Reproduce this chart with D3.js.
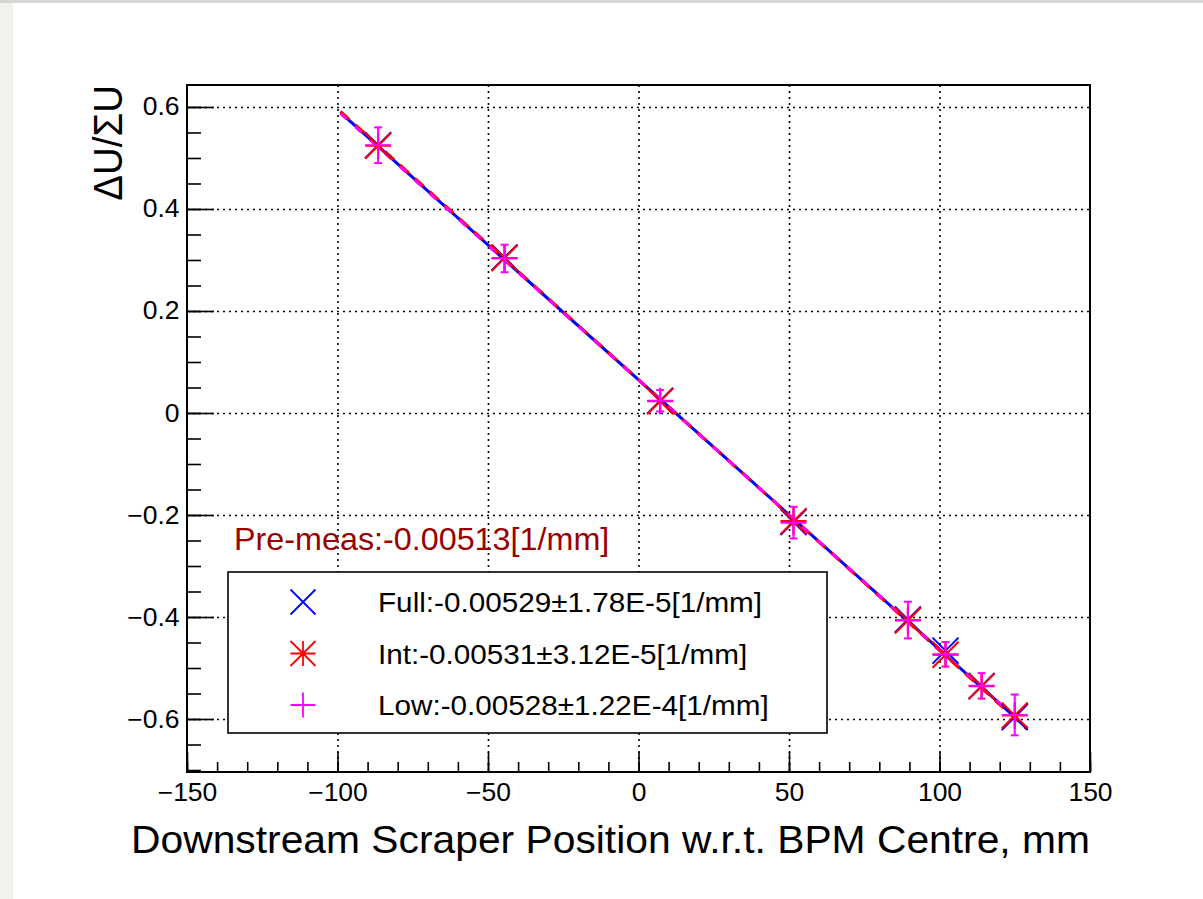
<!DOCTYPE html>
<html>
<head>
<meta charset="utf-8">
<script src="https://cdn.jsdelivr.net/npm/d3@7"></script>
<style>
	body { margin: 0; background: #fff; }
	#wrapper { width: 1203px; height: 899px; }
	text { font-family: "Liberation Sans", Arial, sans-serif; }
</style>
</head>
<body>
<div id="wrapper"></div>
<script>
/////////////////////////////////////////////////
// data /////////////////////////////////////////
/////////////////////////////////////////////////

const positions = [-86.5, -44.5, 7.2, 51.5, 89.5, 102, 114, 125];
const fullValues = [0.525, 0.305, 0.024, -0.214, -0.405, -0.466, -0.535, -0.596];
const intValues = [0.524, 0.304, 0.023, -0.212, -0.407, -0.474, -0.536, -0.593];
const lowValues = [0.525, 0.303, 0.024, -0.215, -0.406, -0.473, -0.535, -0.592];
const lowErrors = [0.035, 0.027, 0.021, 0.031, 0.036, 0.024, 0.025, 0.04];

const fitLabels = [
	"Full:-0.00529±1.78E-5[1/mm]",
	"Int:-0.00531±3.12E-5[1/mm]",
	"Low:-0.00528±1.22E-4[1/mm]"
];
const fitSlopes = [-0.00529, -0.00531, -0.00528];
const fitIntercepts = [0.065, 0.0655, 0.0645];
const fitRange = [-99, 129];

const xTicks = [-150, -100, -50, 0, 50, 100, 150];
const yTicks = [-0.6, -0.4, -0.2, 0, 0.2, 0.4, 0.6];
const preMeasLabel = "Pre-meas:-0.00513[1/mm]";

/////////////////////////////////////////////////
// dimensions ///////////////////////////////////
/////////////////////////////////////////////////

let dimensions = {
	width: 1203,
	height: 899,
	margin: { top: 85, right: 113, bottom: 127, left: 187 }
};
dimensions.boundedWidth = dimensions.width - dimensions.margin.left - dimensions.margin.right;
dimensions.boundedHeight = dimensions.height - dimensions.margin.top - dimensions.margin.bottom;

// picture is a bit wider than tall, text gets stretched the same way
const stretch = 1.06;

const svg = d3.select("#wrapper").append("svg")
	.attr("width", dimensions.width)
	.attr("height", dimensions.height);

// page background
svg.append("rect").attr("width", dimensions.width).attr("height", dimensions.height).attr("fill", "#fff");
svg.append("rect").attr("width", 13).attr("height", dimensions.height).attr("fill", "#f3f1ec");
svg.append("rect").attr("width", dimensions.width).attr("height", 3).attr("fill", "#d6d6d2");

const bounds = svg.append("g")
	.attr("transform", `translate(${dimensions.margin.left},${dimensions.margin.top})`);

/////////////////////////////////////////////////
// scales ///////////////////////////////////////
/////////////////////////////////////////////////

const xScale = d3.scaleLinear()
	.domain([-150, 150])
	.range([0, dimensions.boundedWidth]);

const yScale = d3.scaleLinear()
	.domain([-0.7039, 0.6431])
	.range([dimensions.boundedHeight, 0]);

/////////////////////////////////////////////////
// grid /////////////////////////////////////////
/////////////////////////////////////////////////

const xGrid = bounds.append("g")
	.attr("class", "xgrid")
	.call(d3.axisBottom(xScale).tickValues(xTicks.slice(1, -1)).tickSize(dimensions.boundedHeight).tickFormat(""));
const yGrid = bounds.append("g")
	.attr("class", "ygrid")
	.call(d3.axisRight(yScale).tickValues(yTicks).tickSize(dimensions.boundedWidth).tickFormat(""));
[xGrid, yGrid].forEach((g) => {
	g.select(".domain").remove();
	g.selectAll("line").attr("stroke", "#000").attr("stroke-width", 1.6).attr("stroke-dasharray", "2 4");
});

/////////////////////////////////////////////////
// fit lines ////////////////////////////////////
/////////////////////////////////////////////////

const lineGen = d3.line().x((d) => xScale(d[0])).y((d) => yScale(d[1]));
const fitStyles = [
	{ color: "#0000ff", dash: null },
	{ color: "#ff0000", dash: "12 8" },
	{ color: "#ff00ff", dash: "8 12" }
];
fitSlopes.forEach((m, i) => {
	const pts = fitRange.map((x) => [x, fitIntercepts[i] + m * x]);
	bounds.append("path")
		.attr("d", lineGen(pts))
		.attr("fill", "none")
		.attr("stroke", fitStyles[i].color)
		.attr("stroke-width", 3)
		.attr("stroke-dasharray", fitStyles[i].dash);
});

/////////////////////////////////////////////////
// markers //////////////////////////////////////
/////////////////////////////////////////////////

const markerPath = (type, s) => {
	const cross = `M${-s},${-s}L${s},${s}M${-s},${s}L${s},${-s}`;
	const plus = `M${-s},0L${s},0M0,${-s}L0,${s}`;
	if (type === "x") return cross;
	if (type === "plus") return plus;
	return cross + plus;
};

const series = [
	{ values: fullValues, type: "x", color: "#0000ff" },
	{ values: intValues, type: "star", color: "#ff0000" },
	{ values: lowValues, type: "plus", color: "#ff00ff" }
];

// error bars of the low series
const errData = positions.map((x, i) => ({ x, y: lowValues[i], e: lowErrors[i] }));
const errs = bounds.append("g").selectAll("g").data(errData).join("g")
	.attr("transform", (d) => `translate(${xScale(d.x)},0)`)
	.attr("stroke", "#ff00ff")
	.attr("stroke-width", 2);
errs.append("line")
	.attr("y1", (d) => yScale(d.y + d.e))
	.attr("y2", (d) => yScale(d.y - d.e));
errs.append("line").attr("x1", -4).attr("x2", 4)
	.attr("y1", (d) => yScale(d.y + d.e)).attr("y2", (d) => yScale(d.y + d.e));
errs.append("line").attr("x1", -4).attr("x2", 4)
	.attr("y1", (d) => yScale(d.y - d.e)).attr("y2", (d) => yScale(d.y - d.e));

series.forEach((s) => {
	bounds.append("g").selectAll("path")
		.data(positions.map((x, i) => [x, s.values[i]]))
		.join("path")
		.attr("transform", (d) => `translate(${xScale(d[0])},${yScale(d[1])})`)
		.attr("d", markerPath(s.type, 13))
		.attr("fill", "none")
		.attr("stroke", s.color)
		.attr("stroke-width", 2);
});

/////////////////////////////////////////////////
// labels in the pad ////////////////////////////
/////////////////////////////////////////////////

svg.append("text")
	.text(preMeasLabel)
	.attr("transform", `translate(234,550) scale(${stretch},1)`)
	.attr("fill", "#990000")
	.style("font-size", "30.5px");

/////////////////////////////////////////////////
// legend ///////////////////////////////////////
/////////////////////////////////////////////////

const legend = svg.append("g").attr("transform", "translate(228,572)");
legend.append("rect")
	.attr("width", 599)
	.attr("height", 161)
	.attr("fill", "#fff")
	.attr("stroke", "#000")
	.attr("stroke-width", 1.6);
const rows = legend.selectAll("g.row").data(series).join("g")
	.attr("class", "row")
	.attr("transform", (d, i) => `translate(0,${30 + i * 51.5})`);
rows.append("path")
	.attr("transform", "translate(75,0)")
	.attr("d", (d) => markerPath(d.type, 12.5))
	.attr("fill", "none")
	.attr("stroke", (d) => d.color)
	.attr("stroke-width", 1.8);
rows.append("text")
	.text((d, i) => fitLabels[i])
	.attr("transform", `translate(150,10) scale(${stretch},1)`)
	.attr("fill", "#000")
	.style("font-size", "28px");

/////////////////////////////////////////////////
// axes /////////////////////////////////////////
/////////////////////////////////////////////////

const xMinor = d3.range(-150, 151, 10);
const yMinor = d3.range(-0.7, 0.64, 0.05).map((d) => Math.round(d * 100) / 100);

const xAxis = bounds.append("g")
	.attr("transform", `translate(0,${dimensions.boundedHeight})`)
	.call(d3.axisBottom(xScale).tickValues(xTicks).tickSizeInner(-20).tickSizeOuter(0).tickPadding(11)
		.tickFormat(d3.format("d")));
const xAxisMinor = bounds.append("g")
	.attr("transform", `translate(0,${dimensions.boundedHeight})`)
	.call(d3.axisBottom(xScale).tickValues(xMinor).tickSizeInner(-10).tickSizeOuter(0).tickFormat(""));

const yAxis = bounds.append("g")
	.call(d3.axisLeft(yScale).tickValues(yTicks).tickSizeInner(-27).tickSizeOuter(0).tickPadding(7)
		.tickFormat((d) => (d === 0 ? "0" : d3.format(".1f")(d))));
const yAxisMinor = bounds.append("g")
	.call(d3.axisLeft(yScale).tickValues(yMinor).tickSizeInner(-14).tickSizeOuter(0).tickFormat(""));

[xAxis, xAxisMinor, yAxis, yAxisMinor].forEach((g) => {
	g.select(".domain").remove();
	g.selectAll("line").attr("stroke", "#000").attr("stroke-width", 1.6);
	g.selectAll("text")
		.attr("fill", "#000")
		.attr("transform", `scale(${stretch},1)`)
		.style("font-family", "'Liberation Sans', Arial, sans-serif")
		.style("font-size", "25px");
});

// frame
bounds.append("rect")
	.attr("width", dimensions.boundedWidth)
	.attr("height", dimensions.boundedHeight)
	.attr("fill", "none")
	.attr("stroke", "#000")
	.attr("stroke-width", 2);

const xAxisLabel = svg.append("text")
	.text("Downstream Scraper Position w.r.t. BPM Centre, mm")
	.attr("transform", `translate(${dimensions.margin.left + dimensions.boundedWidth},853) scale(${stretch},1)`)
	.style("text-anchor", "end")
	.style("font-size", "38.5px");

const yAxisLabel = svg.append("text")
	.text("ΔU/ΣU")
	.attr("transform", `translate(122,${dimensions.margin.top}) rotate(-90) scale(1,${stretch})`)
	.style("text-anchor", "end")
	.style("font-size", "38.5px");
</script>
</body>
</html>
